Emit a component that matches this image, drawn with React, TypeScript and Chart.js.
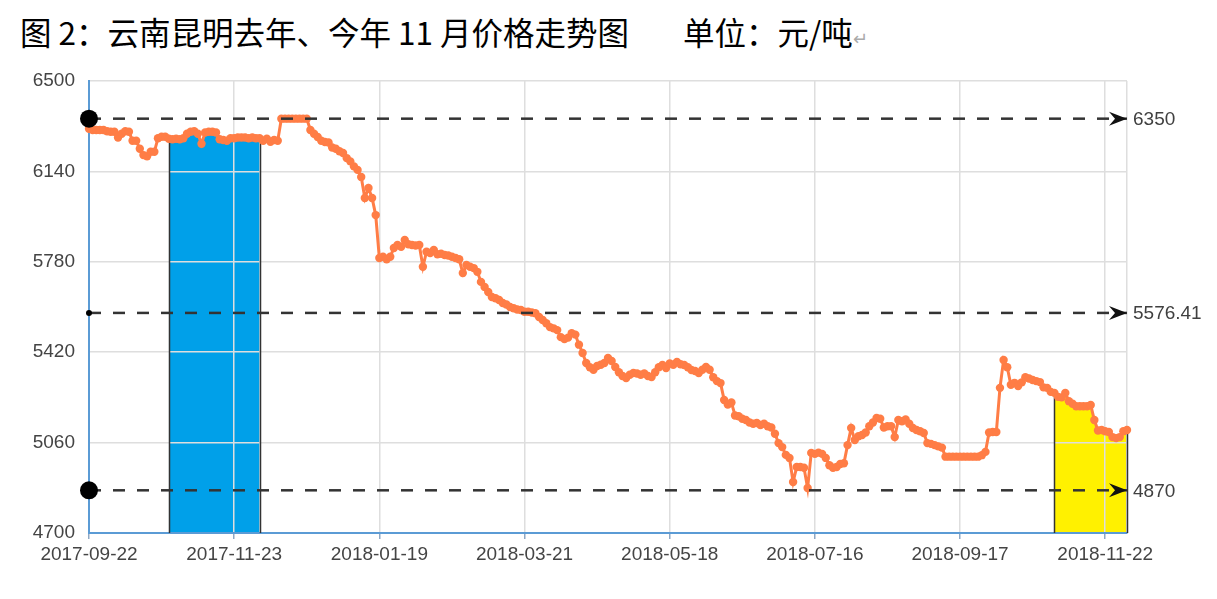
import React, { useEffect, useRef } from 'react';
import { Chart, registerables } from 'chart.js';

Chart.register(...registerables);

// ---- data ----
const tickLabels = ['2017-09-22', '2017-11-23', '2018-01-19', '2018-03-21', '2018-05-18', '2018-07-16', '2018-09-17', '2018-11-22'];
const tickStep = 40; // trading days between labelled ticks
const yTicks = [4700, 5060, 5420, 5780, 6140, 6500];

// daily price, 元/吨 (one value per trading day, 2017-09-22 onwards)
const prices = [
  6310, 6305, 6305, 6305, 6305, 6300, 6298, 6298, 6275, 6290,
  6300, 6298, 6262, 6262, 6230, 6205, 6200, 6218, 6218, 6272,
  6278, 6278, 6270, 6268, 6270, 6268, 6272, 6290, 6298, 6300,
  6290, 6250, 6295, 6298, 6298, 6295, 6268, 6265, 6262, 6272,
  6272, 6275, 6275, 6275, 6272, 6275, 6272, 6272, 6262, 6270,
  6258, 6265, 6262, 6350, 6350, 6350, 6350, 6350, 6350, 6350,
  6350, 6305, 6290, 6277, 6262, 6257, 6255, 6235, 6230, 6220,
  6213, 6193, 6180, 6160, 6146, 6118, 6034, 6074, 6034, 5966,
  5795, 5800, 5790, 5800, 5835, 5847, 5840, 5867, 5850, 5847,
  5845, 5847, 5760, 5820, 5815, 5827, 5810, 5812, 5807, 5805,
  5800, 5795, 5790, 5735, 5767, 5760, 5755, 5740, 5700, 5680,
  5660, 5640, 5635, 5628, 5616, 5610, 5600, 5595, 5590, 5588,
  5581, 5581, 5578, 5575, 5560, 5548, 5535, 5520, 5515, 5508,
  5480, 5472, 5478, 5496, 5490, 5450, 5417, 5377, 5360, 5350,
  5365, 5370, 5377, 5397, 5385, 5361, 5340, 5325, 5317, 5330,
  5337, 5335, 5330, 5335, 5325, 5321, 5340, 5360, 5369, 5357,
  5375, 5370, 5381, 5372, 5369, 5360, 5349, 5345, 5337, 5350,
  5361, 5350, 5320, 5305, 5297, 5230, 5212, 5220, 5168, 5165,
  5155, 5150, 5140, 5135, 5138, 5130, 5135, 5125, 5120, 5095,
  5058, 5042, 5011, 4999, 4903, 4963, 4963, 4960, 4879, 5019,
  5015, 5020, 5015, 4999, 4970, 4960, 4963, 4975, 4978, 5050,
  5118, 5070, 5085, 5090, 5100, 5125, 5140, 5158, 5155, 5120,
  5125, 5125, 5082, 5150, 5145, 5152, 5135, 5118, 5110, 5105,
  5098, 5058, 5055, 5050, 5045, 5040, 5004, 5004, 5004, 5004,
  5004, 5004, 5004, 5004, 5004, 5004, 5010, 5023, 5100, 5102,
  5102, 5278, 5389, 5360, 5290, 5298, 5285, 5300, 5320, 5315,
  5309, 5305, 5301, 5280, 5278, 5262, 5258, 5242, 5240, 5258,
  5225, 5215, 5205, 5205, 5205, 5205, 5210, 5150, 5108, 5110,
  5105, 5102, 5082, 5078, 5082, 5105, 5110,
];

// reference levels (max, average, min)
const refLevels = [6350, 5576.41, 4870];
const refLabels = ['6350', '5576.41', '4870'];
const refDotRadius = [9, 3, 9];

// highlighted November ranges (index of first / last trading day)
const lastYearNov = [22, 47];
const thisYearNov = [266, 286];

const LINE_COLOR = '#ff7d46';
const BLUE = '#00a0e9';
const YELLOW = '#fff100';
const GRID = '#dedede';
const AXIS_BLUE = '#5b9bd5';
const TICK_FONT = { family: '"Liberation Sans", Arial, sans-serif', size: 19 };

const overlayPlugin = {
  id: 'overlay',
  beforeDatasetsDraw(chart: any) {
    const { ctx, scales } = chart;
    const x = scales.x;
    const y = scales.y;
    ctx.save();
    ctx.strokeStyle = '#333';
    ctx.lineWidth = 1.5;
    for (const [s, e] of [lastYearNov, thisYearNov]) {
      for (const i of [s, e]) {
        const px = Math.round(x.getPixelForValue(i)) + 0.5;
        ctx.beginPath();
        ctx.moveTo(px, y.getPixelForValue(prices[i]));
        ctx.lineTo(px, y.bottom);
        ctx.stroke();
      }
    }
    ctx.restore();
  },
  afterDatasetsDraw(chart: any) {
    const { ctx, scales } = chart;
    const x = scales.x;
    const y = scales.y;
    const tx = x.getPixelForValue(prices.length - 1);
    ctx.save();
    refLevels.forEach((lvl, k) => {
      const ty = y.getPixelForValue(lvl);
      ctx.fillStyle = '#111';
      ctx.beginPath();
      ctx.moveTo(tx, ty);
      ctx.lineTo(tx - 18, ty - 7);
      ctx.lineTo(tx - 12, ty);
      ctx.lineTo(tx - 18, ty + 7);
      ctx.closePath();
      ctx.fill();
      ctx.fillStyle = '#404040';
      ctx.font = '19px "Liberation Sans", Arial, sans-serif';
      ctx.textAlign = 'left';
      ctx.textBaseline = 'middle';
      ctx.fillText(refLabels[k], tx + 6, ty + 1);
    });
    ctx.restore();
  },
};

export default function App() {
  const canvasRef = useRef<HTMLCanvasElement | null>(null);

  useEffect(() => {
    const canvas = canvasRef.current;
    if (!canvas) return;
    const last = prices.length - 1;

    const refSets = refLevels.map((lvl, k) => ({
      data: [{ x: 0, y: lvl }, { x: last, y: lvl }],
      borderColor: '#333',
      borderWidth: 2.5,
      borderDash: [12, 12],
      pointRadius: [refDotRadius[k], 0],
      pointBackgroundColor: '#000',
      pointBorderWidth: 0,
      fill: false,
      clip: false,
    }));

    const fillSet = (range: number[], color: string) => ({
      data: prices.slice(range[0], range[1] + 1).map((v, k) => ({ x: range[0] + k, y: v })),
      borderWidth: 0,
      borderColor: 'transparent',
      backgroundColor: color,
      pointRadius: 0,
      fill: 'start',
    });

    const chart = new Chart(canvas, {
      type: 'line',
      data: {
        datasets: [
          ...refSets,
          {
            data: prices.map((v, i) => ({ x: i, y: v })),
            borderColor: LINE_COLOR,
            backgroundColor: LINE_COLOR,
            borderWidth: 3,
            pointRadius: 4.2,
            pointBackgroundColor: LINE_COLOR,
            pointBorderWidth: 0,
            fill: false,
            clip: 6,
          },
          fillSet(lastYearNov, BLUE),
          fillSet(thisYearNov, YELLOW),
        ] as any,
      },
      options: {
        animation: false,
        responsive: false,
        devicePixelRatio: 1,
        layout: { padding: { left: 0, right: 90, top: 81, bottom: 0 } },
        plugins: {
          legend: { display: false },
          tooltip: { enabled: false },
          filler: { drawTime: 'beforeDraw' },
        } as any,
        scales: {
          x: {
            type: 'linear',
            min: 0,
            max: last,
            afterBuildTicks: (axis: any) => {
              const t = tickLabels.map((_, i) => ({ value: i * tickStep }));
              t.push({ value: last });
              axis.ticks = t;
            },
            afterFit: (s: any) => {
              s.height = 66;
            },
            grid: {
              color: GRID,
              lineWidth: 1.5,
              tickLength: 6,
              tickColor: (c: any) => (c.tick && c.tick.value % tickStep === 0 ? '#8fa8c4' : 'rgba(0,0,0,0)'),
            },
            border: { color: AXIS_BLUE, width: 2 },
            ticks: {
              autoSkip: false,
              maxRotation: 0,
              padding: 4,
              color: '#444',
              font: TICK_FONT,
              callback: (v: any) => (v % tickStep === 0 ? tickLabels[v / tickStep] ?? '' : ''),
            },
          },
          y: {
            min: 4700,
            max: 6500,
            afterBuildTicks: (axis: any) => {
              axis.ticks = yTicks.map((v) => ({ value: v }));
            },
            afterFit: (s: any) => {
              s.width = 89;
            },
            grid: { color: GRID, lineWidth: 1.5, drawTicks: false },
            border: { color: AXIS_BLUE, width: 2 },
            ticks: {
              padding: 14,
              color: '#444',
              font: TICK_FONT,
              callback: (v: any) => String(v),
            },
          },
        } as any,
      },
      plugins: [overlayPlugin],
    } as any);

    return () => chart.destroy();
  }, []);

  const titleStyle: React.CSSProperties = {
    position: 'absolute',
    top: 14,
    fontFamily: '"Noto Sans CJK SC", sans-serif',
    fontSize: 31.5,
    lineHeight: '34px',
    color: '#000',
    whiteSpace: 'pre',
  };

  return (
    <div style={{ position: 'fixed', left: 0, top: 0, width: 1217, height: 599, background: '#fff' }}>
      <div style={{ ...titleStyle, left: 20 }}>图 2：云南昆明去年、今年 11 月价格走势图</div>
      <div style={{ ...titleStyle, left: 683 }}>
        单位：元/吨<span style={{ color: '#aaa', fontSize: 18 }}>↵</span>
      </div>
      <canvas ref={canvasRef} width={1217} height={599} style={{ position: 'absolute', left: 0, top: 0, display: 'block' }} />
    </div>
  );
}
